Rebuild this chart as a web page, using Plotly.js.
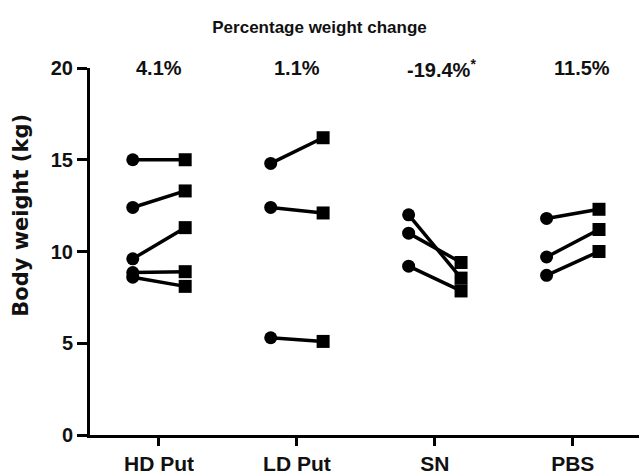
<!DOCTYPE html>
<html>
<head>
<meta charset="utf-8">
<script src="https://cdn.plot.ly/plotly-3.0.1.min.js"></script>
<style>html,body{margin:0;padding:0;background:#fff;}#chart{width:639px;height:475px;}</style>
</head>
<body>
<div id="chart"></div>
<script>
const categories = ['HD Put', 'LD Put', 'SN', 'PBS'];
const hdPre  = [15.0, 12.4, 9.6, 8.85, 8.6];
const hdPost = [15.0, 13.3, 11.3, 8.9, 8.1];
const ldPre  = [14.8, 12.4, 5.3];
const ldPost = [16.2, 12.1, 5.1];
const snPre  = [12.0, 11.0, 9.2];
const snPost = [8.55, 9.4, 7.85];
const pbsPre  = [11.8, 9.7, 8.7];
const pbsPost = [12.3, 11.2, 10.0];
const pctLabels = ['4.1%', '1.1%', '-19.4%<sup>*</sup>', '11.5%'];
const yTicks = [0, 5, 10, 15, 20];

const groups = [[hdPre, hdPost], [ldPre, ldPost], [snPre, snPost], [pbsPre, pbsPost]];
const off = 0.19;
const traces = [];
groups.forEach((g, i) => {
  g[0].forEach((v, j) => {
    traces.push({
      x: [i - off, i + off],
      y: [v, g[1][j]],
      mode: 'lines+markers',
      type: 'scatter',
      line: {color: '#000', width: 3.5},
      marker: {color: '#000', size: 13, opacity: 1, symbol: ['circle', 'square'], line: {width: 0}},
      showlegend: false,
      hoverinfo: 'none',
      cliponaxis: false
    });
  });
});

const fam = 'Liberation Sans, Arial, sans-serif';
const tickFont = {family: fam, color: '#111', size: 20, weight: 'bold'};
const catFont = {family: fam, color: '#111', size: 21, weight: 'bold'};
const pctFont = {family: fam, color: '#111', size: 20, weight: 'bold'};
const pctX = [0, 1.0, 2.05, 3.065];
const annotations = pctLabels.map((t, i) => ({
  x: pctX[i], y: 20, xref: 'x', yref: 'y', text: t, showarrow: false,
  font: pctFont, xanchor: 'center', yanchor: 'middle'
}));
annotations.push({
  x: -0.1257, y: 0.6, xref: 'paper', yref: 'paper', text: 'Body weight (kg)',
  textangle: -90, showarrow: false, xanchor: 'center', yanchor: 'middle',
  font: {family: 'DejaVu Sans, sans-serif', color: '#111', size: 21, weight: 'bold'}
});

const layout = {
  width: 639, height: 475,
  margin: {l: 90, r: 0, t: 68, b: 40},
  paper_bgcolor: '#fff', plot_bgcolor: '#fff',
  font: tickFont,
  title: {text: 'Percentage weight change', x: 0.5, xref: 'container', xanchor: 'center',
          y: 0.943, yref: 'container', yanchor: 'middle',
          font: {family: fam, size: 17, color: '#111', weight: 'bold'}},
  xaxis: {
    range: [-0.5, 3.48], tickvals: [0, 1, 2, 3], ticktext: categories,
    showgrid: false, zeroline: false, showline: true, linecolor: '#000', linewidth: 3,
    ticks: 'outside', ticklen: 8, tickwidth: 3, tickcolor: '#000',
    tickfont: catFont, fixedrange: true
  },
  yaxis: {
    range: [0, 20], tickvals: yTicks,
    showgrid: false, zeroline: false, showline: true, linecolor: '#000', linewidth: 3,
    ticks: 'outside', ticklen: 10, tickwidth: 3, tickcolor: '#000',
    tickfont: tickFont
  },
  annotations: annotations
};

Plotly.newPlot('chart', traces, layout, {staticPlot: true});
</script>
</body>
</html>
